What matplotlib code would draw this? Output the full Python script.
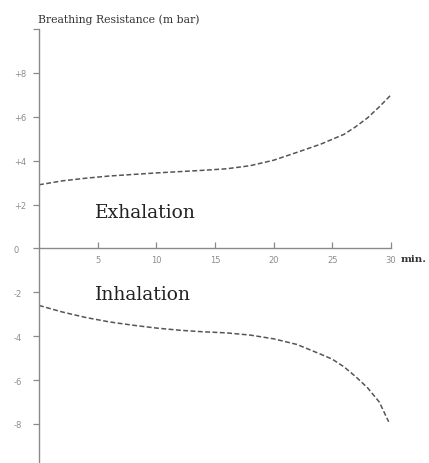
import matplotlib
matplotlib.use("Agg")
import matplotlib.pyplot as plt

# Data
time_exh = [0, 2, 4, 6, 8, 10, 12, 14, 16, 18, 20, 22, 24, 26, 27, 28, 29, 30]
exhalation = [2.9, 3.08, 3.2, 3.3, 3.37, 3.44, 3.5, 3.56, 3.63, 3.77, 4.02, 4.38,
              4.75, 5.2, 5.55, 5.95, 6.45, 7.0]
time_inh = [0, 2, 4, 6, 8, 10, 12, 14, 16, 18, 20, 22, 24, 25, 26, 27, 28, 29, 29.8]
inhalation = [-2.6, -2.9, -3.15, -3.35, -3.5, -3.63, -3.73, -3.8, -3.85, -3.95,
              -4.12, -4.38, -4.82, -5.05, -5.4, -5.85, -6.35, -7.0, -7.9]

x_ticks = [5, 10, 15, 20, 25, 30]
x_tick_labels = ["5", "10", "15", "20", "25", "30"]
y_ticks = [10, 8, 6, 4, 2, 0, -2, -4, -6, -8]
y_tick_labels = ["", "+8", "+6", "+4", "+2", "0", "-2", "-4", "-6", "-8"]

title = "Breathing Resistance (m bar)"
label_exh = "Exhalation"
label_inh = "Inhalation"
unit = "min."

W, H = 429, 464
fig = plt.figure(figsize=(W / 100, H / 100), dpi=100)
ax = fig.add_axes([39 / W, 0, 352 / W, 1 - 30 / H])
ax.set_xlim(0, 30)
ax.set_ylim(-9.78, 9.95)

axis_color = "#8a8a8a"
line_color = "#555555"

ax.plot(time_exh, exhalation, color=line_color, lw=1.1, ls=(0, (3.2, 1.6)),
        dash_capstyle="butt")
ax.plot(time_inh, inhalation, color=line_color, lw=1.1, ls=(0, (3.2, 1.6)),
        dash_capstyle="butt")

for s in ["top", "right"]:
    ax.spines[s].set_visible(False)
ax.spines["bottom"].set_position(("data", 0))
ax.spines["left"].set_color(axis_color)
ax.spines["bottom"].set_color(axis_color)
ax.spines["left"].set_linewidth(1.0)
ax.spines["bottom"].set_linewidth(1.0)

ax.set_xticks(x_ticks, x_tick_labels)
ax.set_yticks(y_ticks, y_tick_labels)
ax.tick_params(axis="x", direction="in", length=4, width=0.9, color=axis_color,
               labelsize=6, labelcolor="#8c8c8c", pad=5)
ax.tick_params(axis="y", direction="out", length=4, width=0.9, color=axis_color,
               labelsize=6, labelcolor="#8c8c8c", pad=14)
for lab in ax.get_yticklabels():
    lab.set_horizontalalignment("left")

fig.text(38 / W, 1 - 23 / H, title, fontsize=7.8, family="DejaVu Serif",
         color="#333333", ha="left", va="baseline")
ax.text(4.8, 1.45, label_exh, fontsize=13.5, family="DejaVu Serif",
        color="#222222", ha="left", va="baseline")
ax.text(4.8, -2.3, label_inh, fontsize=13.5, family="DejaVu Serif",
        color="#222222", ha="left", va="baseline")
ax.text(30.8, -0.45, unit, fontsize=7.5, family="DejaVu Serif", color="#333333",
        fontweight="bold", ha="left", va="center", clip_on=False)

fig.savefig("out.png", dpi=100, facecolor="white")
